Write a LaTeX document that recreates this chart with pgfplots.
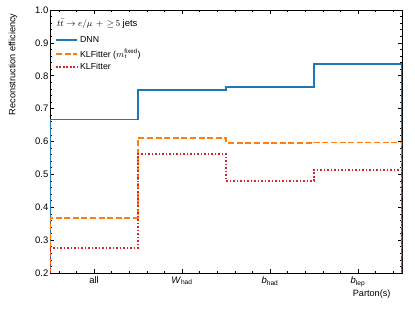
\documentclass[border=0pt]{standalone}
\usepackage{pgfplots}
\pgfplotsset{compat=1.18}
\usepackage{fontspec}
\setmainfont{Liberation Sans}
\definecolor{cblue}{RGB}{31,119,180}
\definecolor{corange}{RGB}{255,127,14}
\definecolor{cred}{RGB}{214,39,40}
\begin{document}
\begin{tikzpicture}
\begin{axis}[
  name=ax,
  scale only axis,
  width=352bp, height=263bp,
  xmin=0, xmax=4, ymin=0.2, ymax=1.0,
  xtick={0.5,1.5,2.5,3.5},
  xticklabels={all, \textit{W}\textsubscript{had}, \textit{b}\textsubscript{had}, \textit{b}\textsubscript{lep}},
  minor xtick={0.1,0.3,0.7,0.9,1.1,1.3,1.7,1.9,2.1,2.3,2.7,2.9,3.1,3.3,3.7,3.9},
  ytick={0.2,0.3,...,1.0},
  yticklabels={0.2,0.3,0.4,0.5,0.6,0.7,0.8,0.9,1.0},
  minor y tick num=4,
  tick align=inside,
  xtick pos=both, ytick pos=both,
  major tick length=4bp, minor tick length=2bp,
  tick style={black, line width=0.6bp},
  axis line style={line width=0.8bp},
  font=\fontsize{9.5}{11}\selectfont,
  ticklabel style={font=\fontsize{9.5}{11}\selectfont},
  label style={font=\fontsize{9.2}{11}\selectfont},
  yticklabel style={inner sep=1.5pt},
  /pgf/number format/assume math mode=true,
  xlabel={Parton(s)},
  xlabel style={at={(axis description cs:1,0)}, anchor=north east, yshift=-13bp, xshift=-8bp},
  ylabel={Reconstruction efficiency},
  ylabel style={at={(axis description cs:-0.105,1.0)}, anchor=east},
  legend style={draw=none, fill=none, at={(axis description cs:0.005,0.915)}, anchor=north west,
    font=\fontsize{8.8}{10}\selectfont, row sep=0.8bp},
  legend cell align=left,
  legend image post style={sharp plot, xscale=1.25},
]
\addplot[const plot, draw=cblue, line width=1.9bp] coordinates {
  (0,0.2) (0,0.667) (1,0.758) (2,0.765) (3,0.836) (4,0.836) (4,0.2)};
\addlegendentry{DNN}
\addplot[const plot, draw=corange, line width=1.9bp, dash pattern=on 6bp off 2.6bp] coordinates {
  (0,0.2) (0,0.366) (1,0.611) (2,0.596) (3,0.597) (4,0.597) (4,0.2)};
\addlegendentry{KLFitter ($m_t^{\mathrm{fixed}}$)}
\addplot[const plot, draw=cred, line width=1.9bp, dash pattern=on 1.6bp off 1.9bp] coordinates {
  (0,0.2) (0,0.276) (1,0.5615) (2,0.480) (3,0.514) (4,0.514) (4,0.2)};
\addlegendentry{KLFitter}
\node[anchor=west, font=\fontsize{9.5}{11}\selectfont] at (axis description cs:0.01,0.947) {$t\bar{t}\rightarrow e/\mu\,+\,{\geq}\,5$ jets};
\end{axis}
\pgfresetboundingbox
\path[use as bounding box] (ax.south west) ++(-50bp,-38bp) rectangle ([xshift=13bp,yshift=10bp]ax.north east);
\end{tikzpicture}
\end{document}
